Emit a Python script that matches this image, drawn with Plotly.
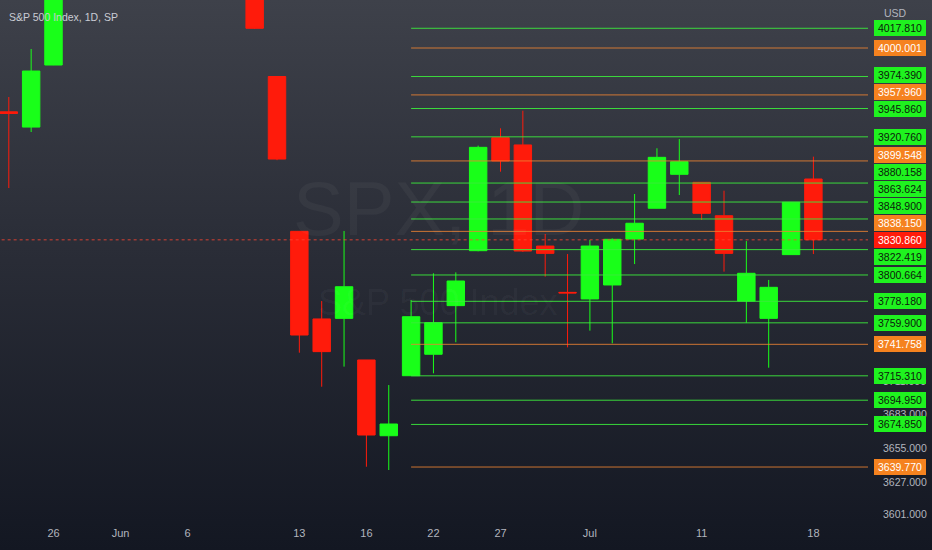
import base64
import math
import plotly.graph_objects as go

# ---------------- data ----------------
sessions = ["2022-05-24", "2022-05-25", "2022-05-26", "2022-05-27", "2022-05-31",
            "2022-06-01", "2022-06-02", "2022-06-03", "2022-06-06", "2022-06-07",
            "2022-06-08", "2022-06-09", "2022-06-10", "2022-06-13", "2022-06-14",
            "2022-06-15", "2022-06-16", "2022-06-17", "2022-06-21", "2022-06-22",
            "2022-06-23", "2022-06-24", "2022-06-27", "2022-06-28", "2022-06-29",
            "2022-06-30", "2022-07-01", "2022-07-05", "2022-07-06", "2022-07-07",
            "2022-07-08", "2022-07-11", "2022-07-12", "2022-07-13", "2022-07-14",
            "2022-07-15", "2022-07-18"]

dates = ["2022-05-24", "2022-05-25", "2022-05-26", "2022-06-09", "2022-06-10",
         "2022-06-13", "2022-06-14", "2022-06-15", "2022-06-16", "2022-06-17",
         "2022-06-21", "2022-06-22", "2022-06-23", "2022-06-24", "2022-06-27",
         "2022-06-28", "2022-06-29", "2022-06-30", "2022-07-01", "2022-07-05",
         "2022-07-06", "2022-07-07", "2022-07-08", "2022-07-11", "2022-07-12",
         "2022-07-13", "2022-07-14", "2022-07-15", "2022-07-18"]
opens = [3942.9, 3929.4, 3984.7, 4101.7, 3974.4,
         3838.2, 3763.2, 3763.7, 3728.6, 3665.5,
         3715.4, 3733.4, 3774.5, 3821.5, 3920.0,
         3913.6, 3825.5, 3785.8, 3780.2, 3792.1,
         3831.5, 3858.2, 3887.8, 3880.8, 3851.7,
         3778.4, 3763.7, 3818.1, 3883.7]
highs = [3956.1, 3999.1, 4075.0, 4119.0, 3974.4,
         3838.2, 3778.4, 3838.5, 3728.6, 3707.6,
         3779.3, 3802.1, 3802.9, 3913.0, 3928.3,
         3943.9, 3835.9, 3818.6, 3830.7, 3832.0,
         3870.6, 3910.7, 3918.8, 3881.0, 3873.5,
         3829.8, 3796.4, 3863.6, 3903.3]
lows = [3875.8, 3925.0, 3984.6, 4017.2, 3900.2,
        3734.7, 3706.2, 3723.0, 3640.0, 3637.3,
        3715.3, 3717.4, 3743.5, 3821.0, 3890.1,
        3820.5, 3799.2, 3739.2, 3753.3, 3742.6,
        3810.0, 3858.0, 3869.7, 3848.0, 3803.5,
        3760.0, 3722.1, 3818.0, 3818.6]
closes = [3941.5, 3979.3, 4057.8, 4017.8, 3901.2,
          3749.6, 3735.6, 3790.6, 3666.1, 3675.2,
          3765.1, 3760.0, 3795.5, 3911.5, 3899.5,
          3821.2, 3819.2, 3785.3, 3825.5, 3831.3,
          3845.2, 3902.7, 3898.9, 3853.8, 3819.2,
          3802.1, 3790.1, 3863.4, 3830.9]

tick_dates = ["2022-05-26", "2022-06-01", "2022-06-06", "2022-06-13", "2022-06-16",
              "2022-06-22", "2022-06-27", "2022-07-01", "2022-07-11", "2022-07-18"]
tick_text = ["26", "Jun", "6", "13", "16", "22", "27", "Jul", "11", "18"]

level_values = [4017.810, 4000.001, 3974.390, 3957.960, 3945.860, 3920.760,
                3899.548, 3880.158, 3863.624, 3848.900, 3838.150, 3822.419,
                3800.664, 3778.180, 3759.900, 3741.758, 3715.310, 3694.950,
                3674.850, 3639.770]
level_kinds = ["g", "o", "g", "o", "g", "g",
               "o", "g", "g", "g", "o", "g",
               "g", "g", "g", "o", "g", "g",
               "g", "o"]
levels_start = "2022-06-21"
last_price = 3830.860
price_ticks = [3711, 3683, 3655, 3627, 3601]

# ---------------- layout / style ----------------
W, H = 932, 550
PW, PH = 868, 525            # plot area (pixels)
SLOT = 22.35                 # px per session
FIRST_CENTER = 8.8           # px of first session centre
REF_PRICE, REF_PX = 4000.0, 48.0
PX_PER_LOG10 = 4440.0 * math.log(10)

y_top = math.log10(REF_PRICE) + REF_PX / PX_PER_LOG10
y_bot = y_top - PH / PX_PER_LOG10
x_left = -FIRST_CENTER / SLOT
x_right = x_left + PW / SLOT


def price_to_px(p):
    return (y_top - math.log10(p)) * PX_PER_LOG10


FONT = "Liberation Sans, Arial, sans-serif"
GREEN = "#19ff19"
RED = "#ff1b0b"
LINE_COL = {"g": "rgba(60,235,60,0.9)", "o": "rgba(235,130,50,0.85)"}
BOX_COL = {"g": "#1ff21f", "o": "#f5821f"}
TXT_COL = {"g": "#0c1a0c", "o": "#ffffff"}
AXIS_TXT = "#b2b5be"

xs = [sessions.index(d) for d in dates]

fig = go.Figure()

# horizontal levels (drawn first so the candles sit on top)
x0_levels = sessions.index(levels_start)
for v, k in zip(level_values, level_kinds):
    fig.add_trace(go.Scatter(x=[x0_levels, x_right + 2], y=[v, v], mode="lines",
                             line=dict(color=LINE_COL[k], width=1),
                             hoverinfo="skip", showlegend=False))
fig.add_trace(go.Scatter(x=[x_left - 1, x_right + 2], y=[last_price, last_price], mode="lines",
                         line=dict(color="rgba(255,70,50,0.8)", width=1, dash="dot"),
                         hoverinfo="skip", showlegend=False))

fig.add_trace(go.Candlestick(
    x=xs, open=opens, high=highs, low=lows, close=closes,
    increasing=dict(line=dict(color=GREEN, width=1), fillcolor=GREEN),
    decreasing=dict(line=dict(color=RED, width=1), fillcolor=RED),
    whiskerwidth=0, hoverinfo="skip", showlegend=False,
))

# background gradient
svg = ('<svg xmlns="http://www.w3.org/2000/svg" width="932" height="550">'
       '<defs><linearGradient id="g" x1="0" y1="0" x2="0" y2="1">'
       '<stop offset="0" stop-color="#3e414a"/>'
       '<stop offset="0.45" stop-color="#2a2d37"/>'
       '<stop offset="1" stop-color="#131722"/>'
       '</linearGradient></defs><rect width="932" height="550" fill="url(#g)"/></svg>')
src = "data:image/svg+xml;base64," + base64.b64encode(svg.encode()).decode()

# price-scale labels, pushed apart from the fixed last-price label
GAP = 17.0
cur_px = price_to_px(last_price)
items = sorted([(price_to_px(v), v, k) for v, k in zip(level_values, level_kinds)])
above = [it for it in items if it[0] < cur_px][::-1]
below = [it for it in items if it[0] >= cur_px]
placed = []
prev = cur_px
for px, v, k in above:
    pos = min(px, prev - GAP)
    placed.append((pos, v, k))
    prev = pos
prev = cur_px
for px, v, k in below:
    pos = max(px, prev + GAP)
    placed.append((pos, v, k))
    prev = pos

annotations = []
BOX_X = 874 / PW
for pos, v, k in placed:
    annotations.append(dict(xref="paper", yref="paper", x=BOX_X, y=1 - pos / PH,
                            xanchor="left", yanchor="middle", text=f"{v:.3f}",
                            showarrow=False, bgcolor=BOX_COL[k], width=52, height=16,
                            borderpad=0, borderwidth=0,
                            font=dict(family=FONT, size=10.5, color=TXT_COL[k])))
annotations.append(dict(xref="paper", yref="paper", x=BOX_X, y=1 - cur_px / PH,
                        xanchor="left", yanchor="middle", text=f"{last_price:.3f}",
                        showarrow=False, bgcolor=RED, width=52, height=16,
                        borderpad=0, borderwidth=0,
                        font=dict(family=FONT, size=10.5, color="#ffffff")))

# title, currency, watermark
annotations += [
    dict(xref="paper", yref="paper", x=7 / PW, y=1 - 17 / PH, xanchor="left", yanchor="middle",
         text="S&P 500 Index, 1D, SP", showarrow=False,
         font=dict(family=FONT, size=10.5, color="#c9ccd4")),
    dict(xref="paper", yref="paper", x=882 / PW, y=1 - 13 / PH, xanchor="left", yanchor="middle",
         text="USD", showarrow=False, font=dict(family=FONT, size=10.5, color=AXIS_TXT)),
    dict(xref="paper", yref="paper", x=438 / PW, y=1 - 208 / PH, xanchor="center", yanchor="middle",
         text="SPX, 1D", showarrow=False,
         font=dict(family=FONT, size=76, color="rgba(255,255,255,0.04)")),
    dict(xref="paper", yref="paper", x=438 / PW, y=1 - 302 / PH, xanchor="center", yanchor="middle",
         text="S&P 500 Index", showarrow=False,
         font=dict(family=FONT, size=36, color="rgba(255,255,255,0.04)")),
]

fig.update_layout(
    width=W, height=H,
    margin=dict(l=0, r=W - PW, t=0, b=H - PH, pad=0),
    paper_bgcolor="#131722", plot_bgcolor="rgba(0,0,0,0)",
    images=[dict(source=src, xref="paper", yref="paper", x=0, y=1,
                 sizex=W / PW, sizey=H / PH, xanchor="left", yanchor="top",
                 sizing="stretch", layer="below")],
    annotations=annotations,
    boxgap=0.22, boxgroupgap=0,
    showlegend=False, hovermode=False,
    xaxis=dict(range=[x_left, x_right], tickvals=[sessions.index(d) for d in tick_dates],
               ticktext=tick_text, showgrid=False, zeroline=False, showline=False,
               ticks="", rangeslider=dict(visible=False), fixedrange=True,
               tickfont=dict(family=FONT, size=11, color=AXIS_TXT)),
    yaxis=dict(type="log", range=[y_bot, y_top], side="right", tickvals=price_ticks,
               ticktext=[f"{t:.3f}" for t in price_ticks], showgrid=False, zeroline=False,
               showline=False, ticks="", ticklabelstandoff=14, fixedrange=True,
               tickfont=dict(family=FONT, size=10.5, color=AXIS_TXT)),
)

fig.write_html("out.html", config={"displayModeBar": False},
               post_script="document.body.style.margin='0';document.body.style.overflow='hidden';")
